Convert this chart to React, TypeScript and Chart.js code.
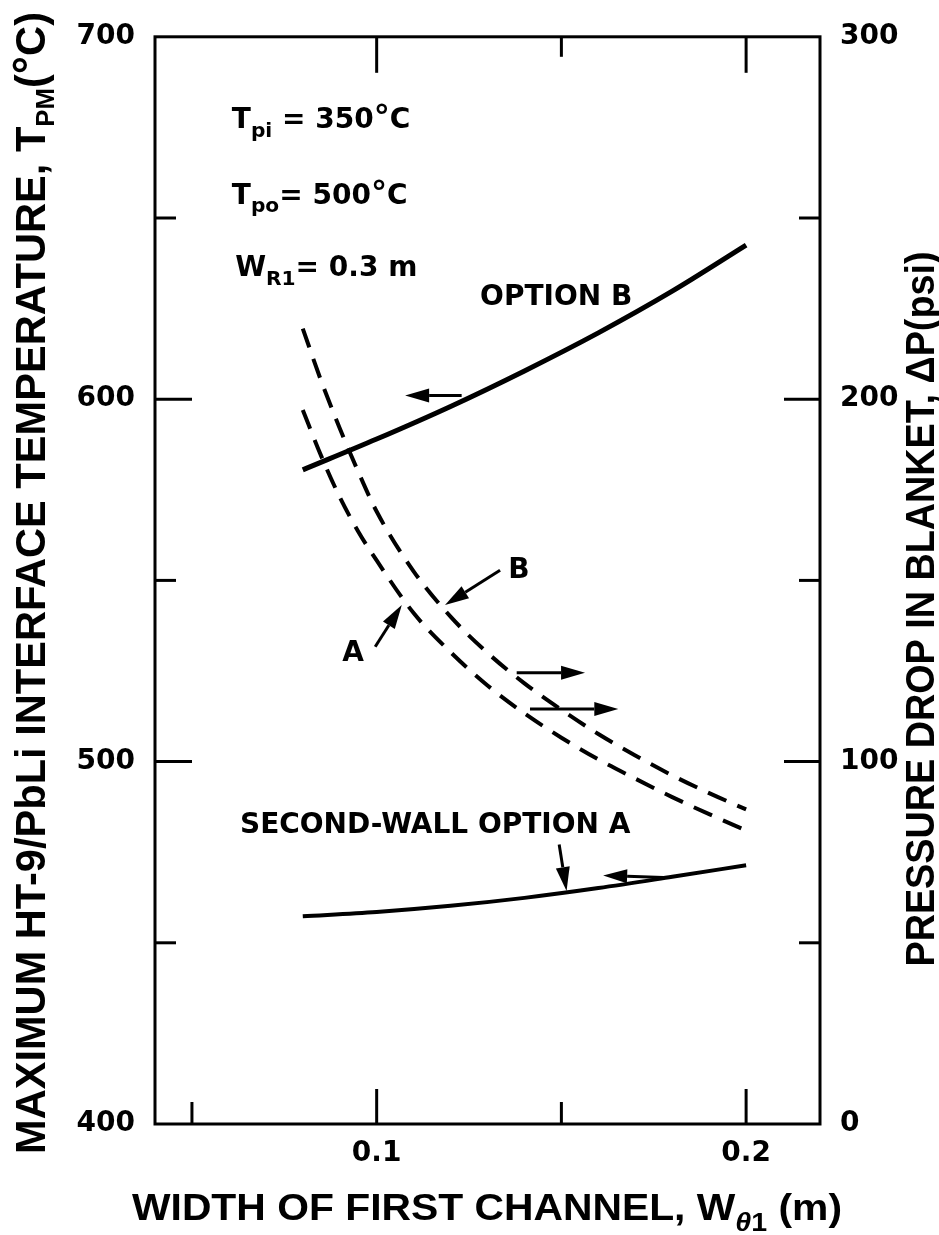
import React, { useEffect, useRef } from 'react';
import { Chart, registerables } from 'chart.js';

Chart.register(...registerables);

// ---------- data ----------
const solidWidths = [0.08, 0.1, 0.12, 0.14, 0.16, 0.18, 0.2];
const optionBTemp = [580.5, 589.0, 598.0, 607.8, 618.3, 629.8, 642.5];
const optionATemp = [457.3, 458.5, 460.2, 462.4, 465.1, 468.2, 471.4];

const dashedWidths = [0.08, 0.085, 0.09, 0.095, 0.1, 0.11, 0.12, 0.13, 0.14, 0.15, 0.16, 0.17, 0.18, 0.19, 0.2];
const pressureB = [219.5, 205, 192, 180, 169, 152.5, 140, 130, 121.6, 114.3, 107.6, 101.7, 96.2, 91.3, 86.8];
const pressureA = [197, 184.3, 173, 163.5, 155.5, 141, 130.2, 121, 113.3, 106.6, 100.6, 95.3, 90.2, 85.5, 81];

const xTickLabels = [0.1, 0.2];
const leftTickLabels = [400, 500, 600, 700];
const rightTickLabels = [0, 100, 200, 300];

const xBottomTicks = [0.05, 0.1, 0.15, 0.2];
const xTopTicks = [0.1, 0.15, 0.2];
const leftTicks = [450, 500, 550, 600, 650];
const rightTicks = [50, 100, 150, 200, 250];

const X_MIN = 0.04, X_MAX = 0.22;
const T_MIN = 400, T_MAX = 700;
const P_MIN = 0, P_MAX = 300;

// ---------- text helpers ----------
type Seg = { t: string; s?: number; dy?: number; italic?: boolean };

function segFont(g: Seg, size: number, family: string) {
  return `${g.italic ? 'italic ' : ''}bold ${size * (g.s || 1)}px ${family}`;
}
function segsWidth(ctx: CanvasRenderingContext2D, segs: Seg[], size: number, family: string) {
  let w = 0;
  for (const g of segs) {
    ctx.font = segFont(g, size, family);
    w += ctx.measureText(g.t).width;
  }
  return w;
}
function drawSegs(ctx: CanvasRenderingContext2D, segs: Seg[], x: number, y: number, size: number, family: string) {
  let cx = x;
  ctx.textAlign = 'left';
  ctx.textBaseline = 'alphabetic';
  for (const g of segs) {
    ctx.font = segFont(g, size, family);
    ctx.fillText(g.t, cx, y + (g.dy || 0) * size);
    cx += ctx.measureText(g.t).width;
  }
}
// draws text centred on (cx, cy) at the given size, stretched along its direction to "target" length
function drawFitted(
  ctx: CanvasRenderingContext2D, segs: Seg[], cx: number, cy: number,
  target: number, family: string, rotate: boolean, size: number
) {
  const w = segsWidth(ctx, segs, size, family);
  const k = target / w;
  ctx.save();
  ctx.translate(cx, cy);
  if (rotate) ctx.rotate(-Math.PI / 2);
  ctx.scale(k, 1);
  drawSegs(ctx, segs, -w / 2, size * 0.36, size, family);
  ctx.restore();
}

const leftTitle: Seg[] = [
  { t: 'MAXIMUM HT-9/PbLi INTERFACE TEMPERATURE, T' },
  { t: 'PM', s: 0.62, dy: 0.22 },
  { t: '(' },
  { t: '°', s: 1.1 },
  { t: 'C)' },
];
const rightTitle: Seg[] = [{ t: 'PRESSURE DROP IN BLANKET, ΔP(psi)' }];
const bottomTitle: Seg[] = [
  { t: 'WIDTH OF FIRST CHANNEL, W' },
  { t: 'θ', s: 0.7, dy: 0.3, italic: true },
  { t: '1', s: 0.7, dy: 0.3 },
  { t: ' (m)' },
];

const ANN_FONT = 'DejaVu Sans';
const ANN_SIZE = 28;

// annotation anchors in data units (x, temperature on left axis)
const notes: { segs: Seg[]; x: number; t: number }[] = [
  { segs: [{ t: 'T' }, { t: 'pi', s: 0.72, dy: 0.3 }, { t: ' = 350' }, { t: '°', s: 1.15 }, { t: 'C' }], x: 0.0608, t: 674.8 },
  { segs: [{ t: 'T' }, { t: 'po', s: 0.72, dy: 0.3 }, { t: '= 500' }, { t: '°', s: 1.15 }, { t: 'C' }], x: 0.0608, t: 654.0 },
  { segs: [{ t: 'W' }, { t: 'R1', s: 0.72, dy: 0.35 }, { t: '= 0.3 m' }], x: 0.0617, t: 634.1 },
  { segs: [{ t: 'OPTION B' }], x: 0.128, t: 626.0 },
  { segs: [{ t: 'SECOND-WALL OPTION A' }], x: 0.063, t: 480.3 },
];
// single letter labels centred (x, pressure on right axis)
const letters: { t: string; x: number; p: number }[] = [
  { t: 'B', x: 0.1385, p: 152.8 },
  { t: 'A', x: 0.0936, p: 129.8 },
];
// arrows: from (x1, v1) to (x2, v2) with head at the end; axis 'T' or 'P'
const arrows: { x1: number; v1: number; x2: number; v2: number; ax: 'T' | 'P' }[] = [
  { x1: 0.123, v1: 601, x2: 0.1077, v2: 601, ax: 'T' },
  { x1: 0.1379, v1: 124.5, x2: 0.1564, v2: 124.5, ax: 'P' },
  { x1: 0.1415, v1: 114.5, x2: 0.1654, v2: 114.5, ax: 'P' },
  { x1: 0.1334, v1: 152.8, x2: 0.1185, v2: 143.2, ax: 'P' },
  { x1: 0.0996, v1: 131.7, x2: 0.1068, v2: 143.2, ax: 'P' },
  { x1: 0.1494, v1: 477.1, x2: 0.1514, v2: 464.3, ax: 'T' },
  { x1: 0.1776, v1: 468.0, x2: 0.1613, v2: 468.6, ax: 'T' },
];

const decor = {
  id: 'decor',
  afterDraw(chart: any) {
    const { ctx, chartArea: a, scales } = chart;
    const xs = scales.x, yl = scales.y, yr = scales.y2;
    ctx.save();
    ctx.strokeStyle = '#000';
    ctx.fillStyle = '#000';
    ctx.lineCap = 'butt';

    // frame
    ctx.lineWidth = 3;
    ctx.strokeRect(a.left, a.top, a.right - a.left, a.bottom - a.top);

    const seg = (x1: number, y1: number, x2: number, y2: number) => {
      ctx.beginPath();
      ctx.moveTo(x1, y1);
      ctx.lineTo(x2, y2);
      ctx.stroke();
    };
    ctx.lineWidth = 3;
    for (const v of xBottomTicks) {
      const px = xs.getPixelForValue(v);
      seg(px, a.bottom, px, a.bottom - (xTickLabels.includes(v) ? 35 : 22));
    }
    for (const v of xTopTicks) {
      const px = xs.getPixelForValue(v);
      seg(px, a.top, px, a.top + (xTickLabels.includes(v) ? 36 : 20));
    }
    for (const v of leftTicks) {
      const py = yl.getPixelForValue(v);
      seg(a.left, py, a.left + (leftTickLabels.includes(v) ? 37 : 21), py);
    }
    for (const v of rightTicks) {
      const py = yr.getPixelForValue(v);
      seg(a.right, py, a.right - (rightTickLabels.includes(v) ? 36 : 21), py);
    }

    // axis titles
    drawFitted(ctx, leftTitle, 30, 583, 1142, 'Liberation Sans', true, 42);
    drawFitted(ctx, rightTitle, 920, 609, 715, 'Liberation Sans', true, 40);
    drawFitted(ctx, bottomTitle, 487, 1207, 710, 'Liberation Sans', false, 37);

    // annotations
    for (const n of notes) {
      drawSegs(ctx, n.segs, xs.getPixelForValue(n.x), yl.getPixelForValue(n.t), ANN_SIZE, ANN_FONT);
    }
    ctx.font = `bold ${ANN_SIZE}px ${ANN_FONT}`;
    ctx.textAlign = 'center';
    ctx.textBaseline = 'middle';
    for (const l of letters) {
      ctx.fillText(l.t, xs.getPixelForValue(l.x), yr.getPixelForValue(l.p));
    }

    // arrows
    ctx.lineWidth = 3;
    for (const ar of arrows) {
      const sc = ar.ax === 'T' ? yl : yr;
      const x1 = xs.getPixelForValue(ar.x1), y1 = sc.getPixelForValue(ar.v1);
      const x2 = xs.getPixelForValue(ar.x2), y2 = sc.getPixelForValue(ar.v2);
      const ang = Math.atan2(y2 - y1, x2 - x1);
      const hl = 24, hw = 7;
      const bx = x2 - hl * Math.cos(ang), by = y2 - hl * Math.sin(ang);
      seg(x1, y1, bx, by);
      ctx.beginPath();
      ctx.moveTo(x2, y2);
      ctx.lineTo(bx + hw * Math.sin(ang), by - hw * Math.cos(ang));
      ctx.lineTo(bx - hw * Math.sin(ang), by + hw * Math.cos(ang));
      ctx.closePath();
      ctx.fill();
    }
    ctx.restore();
  },
};

const tickFont = { family: 'DejaVu Sans', size: 28, weight: 'bold' as const };

export default function App() {
  const ref = useRef<HTMLCanvasElement | null>(null);
  useEffect(() => {
    if (!ref.current) return;
    const lineDefaults = { borderColor: '#000', pointRadius: 0, cubicInterpolationMode: 'monotone', fill: false };
    const chart = new Chart(ref.current, {
      type: 'line',
      data: {
        datasets: [
          {
            label: 'Option B (T_PM)',
            data: solidWidths.map((x, i) => ({ x, y: optionBTemp[i] })),
            yAxisID: 'y',
            borderWidth: 5,
            ...lineDefaults,
          },
          {
            label: 'Second-wall option A (T_PM)',
            data: solidWidths.map((x, i) => ({ x, y: optionATemp[i] })),
            yAxisID: 'y',
            borderWidth: 4,
            ...lineDefaults,
          },
          {
            label: 'B (ΔP)',
            data: dashedWidths.map((x, i) => ({ x, y: pressureB[i] })),
            yAxisID: 'y2',
            borderWidth: 4,
            borderDash: [20, 12],
            ...lineDefaults,
          },
          {
            label: 'A (ΔP)',
            data: dashedWidths.map((x, i) => ({ x, y: pressureA[i] })),
            yAxisID: 'y2',
            borderWidth: 4,
            borderDash: [20, 12],
            ...lineDefaults,
          },
        ],
      } as any,
      options: {
        animation: false,
        responsive: false,
        layout: { padding: { top: 27, left: 0, right: 0, bottom: 0 } },
        plugins: { legend: { display: false }, tooltip: { enabled: false } },
        scales: {
          x: {
            type: 'linear',
            min: X_MIN,
            max: X_MAX,
            grid: { display: false, drawTicks: false },
            border: { display: false },
            afterBuildTicks: (s: any) => { s.ticks = xTickLabels.map((v) => ({ value: v })); },
            afterFit: (s: any) => { s.height = 111; },
            ticks: { padding: 13, color: '#000', font: tickFont, maxRotation: 0, callback: (v: any) => String(v) },
          },
          y: {
            type: 'linear',
            position: 'left',
            min: T_MIN,
            max: T_MAX,
            grid: { display: false, drawTicks: false },
            border: { display: false },
            afterBuildTicks: (s: any) => { s.ticks = leftTickLabels.map((v) => ({ value: v })); },
            afterFit: (s: any) => { s.width = 155; },
            ticks: { padding: 20, color: '#000', font: tickFont, callback: (v: any) => String(v) },
          },
          y2: {
            type: 'linear',
            position: 'right',
            min: P_MIN,
            max: P_MAX,
            grid: { display: false, drawTicks: false },
            border: { display: false },
            afterBuildTicks: (s: any) => { s.ticks = rightTickLabels.map((v) => ({ value: v })); },
            afterFit: (s: any) => { s.width = 119; },
            ticks: { padding: 20, color: '#000', font: tickFont, callback: (v: any) => String(v) },
          },
        },
      } as any,
      plugins: [decor],
    });
    return () => chart.destroy();
  }, []);
  return (
    <div style={{ position: 'absolute', left: 0, top: 0, width: 939, height: 1235, background: '#fff' }}>
      <canvas ref={ref} width={939} height={1235} style={{ display: 'block' }} />
    </div>
  );
}
